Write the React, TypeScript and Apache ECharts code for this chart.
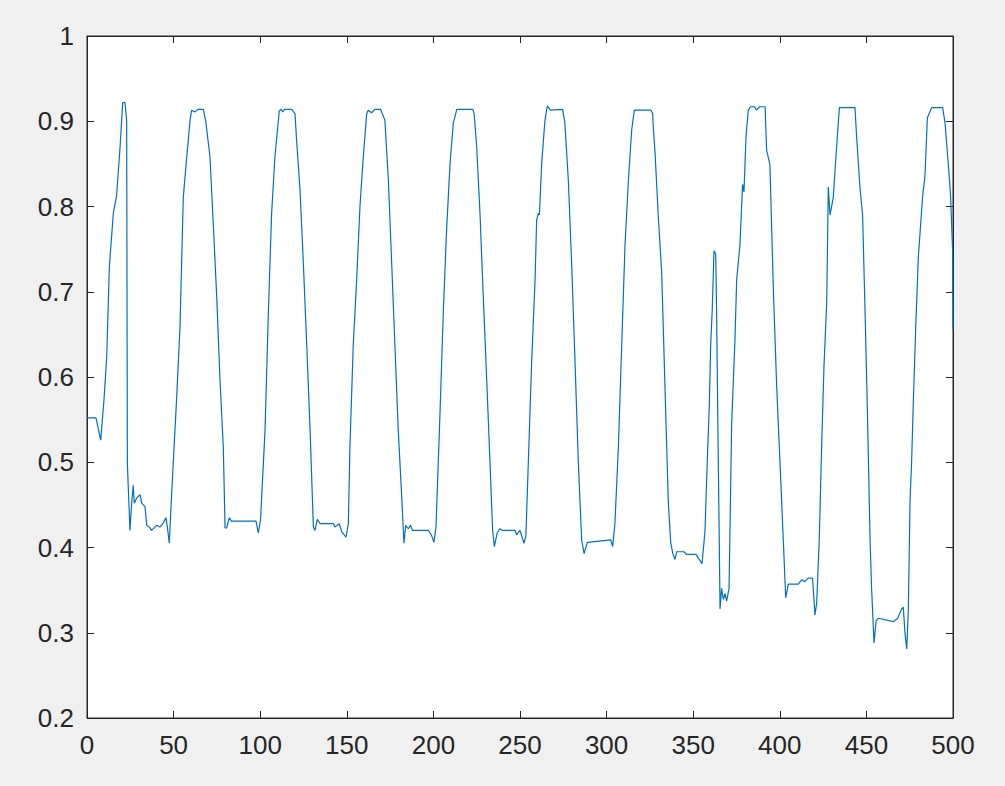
import React, { useEffect, useRef } from "react";
import * as echarts from "echarts";

const xs: number[] = [
  0, 5.2, 7.9, 9.8, 11.4, 12.9, 15.2, 17.1, 19.1, 20.6, 21.9, 22.9, 23.3, 24.8, 25.8, 26.7, 27.3, 28.7, 30.6, 31.6,
  33.5, 34.5, 36.4, 37.3, 40.2, 42.1, 44.1, 45.6, 46.4, 47.5, 48.9, 51.8, 53.7, 55.6, 57.6, 59.5, 60.4, 62.3, 64.2, 67.2,
  68.7, 71.0, 72.9, 74.9, 76.8, 78.7, 79.7, 80.6, 82.2, 83.4, 97.6, 98.9, 100.2, 102.8, 104.7, 106.6, 108.5, 111.0, 112.0, 113.0,
  114.0, 118.2, 120.1, 121.0, 123.0, 124.9, 126.9, 128.8, 130.7, 131.6, 133.0, 134.6, 142.2, 143.2, 145.6, 147.0, 149.5, 150.9, 151.8, 153.7,
  155.7, 157.6, 159.5, 161.5, 162.4, 164.3, 166.2, 169.5, 172.0, 174.0, 175.9, 177.8, 179.7, 181.7, 183.0, 184.0, 185.5, 186.8, 188.0, 197.1,
  199.0, 200.3, 201.5, 203.8, 205.7, 207.6, 209.6, 211.5, 213.5, 222.7, 223.5, 225.0, 226.9, 228.8, 230.8, 232.7, 234.2, 235.2, 236.8, 238.3,
  240.0, 247.1, 248.1, 250.0, 252.3, 253.4, 254.8, 256.7, 258.7, 259.6, 260.6, 261.2, 262.5, 264.4, 265.8, 267.5, 274.6, 275.9, 277.9, 279.8,
  281.8, 283.7, 285.6, 287.0, 288.9, 302.4, 303.5, 304.8, 306.8, 308.7, 310.6, 312.6, 314.5, 316.0, 325.6, 326.6, 327.0, 327.9, 329.8, 331.8,
  333.7, 335.6, 337.0, 338.2, 339.5, 340.4, 344.7, 346.0, 351.6, 353.5, 355.1, 356.8, 358.1, 359.3, 360.1, 361.0, 362.0, 363.0, 363.5, 364.5,
  365.5, 366.4, 367.4, 368.4, 369.3, 370.7, 372.2, 374.1, 375.1, 377.0, 378.5, 379.3, 380.5, 381.8, 383.2, 385.5, 386.5, 388.4, 391.5, 392.4,
  394.3, 396.3, 398.2, 400.1, 402.0, 403.4, 404.9, 410.7, 412.6, 414.5, 416.4, 418.9, 420.3, 421.3, 422.8, 424.2, 425.5, 427.1, 428.0, 429.0,
  430.9, 432.4, 434.4, 443.4, 444.4, 446.3, 447.8, 449.2, 450.5, 452.1, 453.0, 454.4, 455.6, 457.0, 465.5, 468.1, 470.4, 471.3, 472.3, 473.3,
  474.2, 475.2, 476.1, 477.1, 478.6, 480.0, 482.5, 483.8, 485.2, 487.7, 494.0, 495.4, 497.3, 498.6, 499.8, 500,
];

const ys: number[] = [
  0.552, 0.552, 0.526, 0.573, 0.624, 0.729, 0.792, 0.813, 0.87, 0.922, 0.922, 0.901, 0.499, 0.42, 0.452, 0.473, 0.452, 0.458, 0.462, 0.452,
  0.448, 0.426, 0.423, 0.42, 0.426, 0.424, 0.429, 0.435, 0.424, 0.405, 0.464, 0.577, 0.659, 0.811, 0.858, 0.901, 0.913, 0.911, 0.914, 0.914,
  0.898, 0.858, 0.78, 0.694, 0.596, 0.518, 0.423, 0.423, 0.435, 0.431, 0.431, 0.417, 0.433, 0.538, 0.675, 0.792, 0.858, 0.912, 0.914, 0.911,
  0.914, 0.914, 0.909, 0.878, 0.819, 0.734, 0.636, 0.538, 0.424, 0.42, 0.433, 0.428, 0.428, 0.424, 0.428, 0.419, 0.412, 0.428, 0.518, 0.636,
  0.714, 0.8, 0.858, 0.909, 0.913, 0.91, 0.914, 0.914, 0.901, 0.831, 0.734, 0.636, 0.538, 0.46, 0.405, 0.426, 0.422, 0.426, 0.42, 0.42,
  0.414, 0.406, 0.424, 0.557, 0.675, 0.772, 0.85, 0.898, 0.914, 0.914, 0.909, 0.87, 0.792, 0.694, 0.596, 0.499, 0.42, 0.401, 0.417, 0.422,
  0.42, 0.42, 0.415, 0.42, 0.405, 0.414, 0.499, 0.616, 0.714, 0.784, 0.792, 0.79, 0.85, 0.901, 0.918, 0.913, 0.914, 0.898, 0.831, 0.734,
  0.616, 0.499, 0.409, 0.393, 0.406, 0.409, 0.401, 0.428, 0.518, 0.636, 0.753, 0.831, 0.89, 0.913, 0.913, 0.909, 0.891, 0.866, 0.79, 0.723,
  0.589, 0.455, 0.406, 0.393, 0.386, 0.395, 0.395, 0.392, 0.392, 0.386, 0.381, 0.419, 0.5, 0.567, 0.638, 0.679, 0.748, 0.744, 0.679, 0.5,
  0.328, 0.352, 0.339, 0.346, 0.337, 0.352, 0.545, 0.643, 0.714, 0.755, 0.826, 0.817, 0.882, 0.913, 0.917, 0.917, 0.913, 0.917, 0.917, 0.866,
  0.849, 0.701, 0.589, 0.5, 0.41, 0.341, 0.357, 0.357, 0.362, 0.36, 0.364, 0.364, 0.321, 0.335, 0.41, 0.522, 0.612, 0.688, 0.823, 0.79,
  0.811, 0.858, 0.916, 0.916, 0.88, 0.822, 0.79, 0.679, 0.567, 0.41, 0.352, 0.288, 0.314, 0.317, 0.313, 0.317, 0.328, 0.33, 0.299, 0.281,
  0.326, 0.455, 0.5, 0.571, 0.665, 0.741, 0.813, 0.835, 0.904, 0.916, 0.916, 0.898, 0.849, 0.813, 0.746, 0.656,
];

const xTicks = { min: 0, max: 500, interval: 50 };
const yTicks = { min: 0.2, max: 1, interval: 0.1 };

const AXIS_COLOR = "#262626";
const FONT = "'Liberation Sans', Arial, sans-serif";

export default function App() {
  const ref = useRef<HTMLDivElement>(null);

  useEffect(() => {
    document.body.style.margin = "0";
    if (!ref.current) return;
    const chart = echarts.init(ref.current, null, { renderer: "svg" });
    const data = xs.map((x, i) => [x, ys[i]]);
    const axisCommon = {
      axisLine: { show: true, onZero: false, lineStyle: { color: AXIS_COLOR, width: 1 } },
      axisTick: { show: true, inside: true, length: 7, lineStyle: { color: AXIS_COLOR, width: 1 } },
      splitLine: { show: false },
    };
    chart.setOption({
      animation: false,
      backgroundColor: "#f0f0f0",
      grid: {
        left: 87,
        top: 36,
        width: 866,
        height: 682,
        show: true,
        backgroundColor: "#ffffff",
        borderColor: AXIS_COLOR,
        borderWidth: 1,
      },
      xAxis: [
        {
          type: "value",
          position: "bottom",
          min: xTicks.min,
          max: xTicks.max,
          interval: xTicks.interval,
          ...axisCommon,
          axisLabel: { color: AXIS_COLOR, fontSize: 26, fontFamily: FONT, margin: 14 },
        },
        {
          type: "value",
          position: "top",
          min: xTicks.min,
          max: xTicks.max,
          interval: xTicks.interval,
          ...axisCommon,
          axisLabel: { show: false },
        },
      ],
      yAxis: [
        {
          type: "value",
          position: "left",
          min: yTicks.min,
          max: yTicks.max,
          interval: yTicks.interval,
          ...axisCommon,
          axisLabel: {
            color: AXIS_COLOR,
            fontSize: 26,
            fontFamily: FONT,
            margin: 13,
            formatter: (v: number) => String(Math.round(v * 10) / 10),
          },
        },
        {
          type: "value",
          position: "right",
          min: yTicks.min,
          max: yTicks.max,
          interval: yTicks.interval,
          ...axisCommon,
          axisLabel: { show: false },
        },
      ],
      series: [
        {
          type: "line",
          xAxisIndex: 0,
          yAxisIndex: 0,
          data,
          showSymbol: false,
          symbol: "none",
          lineStyle: { color: "#0072BD", width: 1.2 },
          silent: true,
        },
      ],
    });
    return () => chart.dispose();
  }, []);

  return <div ref={ref} style={{ width: 1005, height: 786 }} />;
}
